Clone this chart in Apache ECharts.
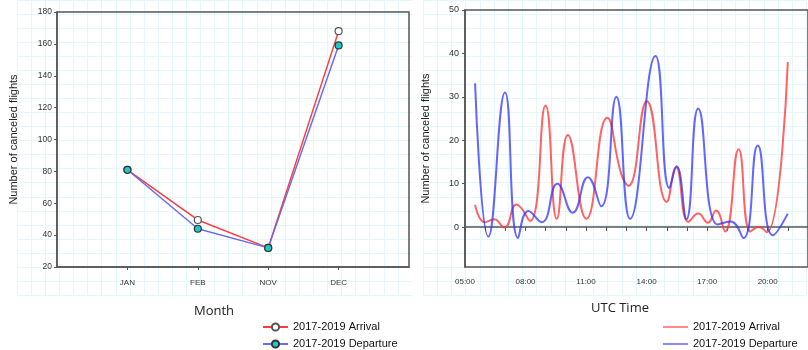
<!DOCTYPE html>
<html>
<head>
<meta charset="utf-8">
<script src="https://cdn.jsdelivr.net/npm/echarts@6/dist/echarts.min.js"></script>
<style>
html,body{margin:0;padding:0;background:#fff;}
#c1{position:absolute;left:0;top:0;width:412px;height:350px;}
#c2{position:absolute;left:412px;top:0;width:396px;height:350px;}
</style>
</head>
<body>
<div id="c1"></div>
<div id="c2"></div>
<script>
// ---- Left chart data (monthly) ----
const months = ['JAN', 'FEB', 'NOV', 'DEC'];
const arrivalMonthly = [81, 49.5, 32, 168];
const departureMonthly = [81, 44, 32, 159];

// ---- Right chart data (UTC hour of day, decimal hours) ----
const arrTimes  = [5.5, 5.99, 6.44, 6.95, 7.55, 8.22, 8.99, 9.55, 10.10, 11.01, 12.05, 12.74, 13.10, 14.01, 15.00, 15.46, 16.08, 16.56, 17.04, 17.44, 17.89, 18.56, 19.15, 19.55, 19.96, 21.0];
const arrValues = [5.1, 1.1, 1.8, -0.1, 5.2, 1.4, 28, 1.9, 21.2, 1.9, 25.2, 12.3, 9.5, 29, 5.8, 13.8, 1.2, 3.1, 1.0, 3.8, -1.0, 17.9, -1.0, 0, -1.2, 38];
const depTimes  = [5.5, 6.16, 6.98, 7.63, 8.14, 8.80, 9.58, 10.34, 11.09, 11.75, 12.50, 13.18, 14.44, 15.13, 15.49, 15.97, 16.56, 17.52, 18.16, 18.80, 19.51, 20.26, 21.0];
const depValues = [33.1, -2.2, 31, -2.5, 3.7, 1.1, 10, 3.3, 11.5, 4.8, 30, 1.9, 39.4, 9, 14, 1.8, 27.3, 0.6, 1.3, -2.5, 18.8, -1.9, 3.1];
const yTicksRight = [0, 10, 20, 30, 40, 50];

const axisCol = '#555';
const labelFont = 'Liberation Sans, Arial, sans-serif';
const paperGrid = '#e3f8f8';

function paperAxes(idx, nx, ny) {
  return {
    x: {type: 'value', gridIndex: idx, min: 0, max: nx, interval: 1, show: true, z: 0,
        axisLine: {show: false}, axisTick: {show: false}, axisLabel: {show: false},
        splitLine: {show: true, lineStyle: {color: paperGrid, width: 1}}},
    y: {type: 'value', gridIndex: idx, min: 0, max: ny, interval: 1, show: true, z: 0,
        axisLine: {show: false}, axisTick: {show: false}, axisLabel: {show: false},
        splitLine: {show: true, lineStyle: {color: paperGrid, width: 1}}}
  };
}

const legendText = {fontSize: 11, color: '#111', fontFamily: labelFont, lineHeight: 12};

// ---------------- Left chart ----------------
const padCats = [''].concat(months, ['']);
const padArr = [null].concat(arrivalMonthly, [null]);
const padDep = [null].concat(departureMonthly, [null]);
const p1 = paperAxes(1, 28, 21);

const chart1 = echarts.init(document.getElementById('c1'));
chart1.setOption({
  animation: false,
  textStyle: {fontFamily: labelFont},
  title: {text: 'Month', left: 209, top: 300, textAlign: 'center',
          textStyle: {fontSize: 13, fontWeight: 'normal', color: '#222', fontFamily: 'Open Sans, sans-serif'}},
  grid: [
    {left: 52, top: 12, width: 357, height: 255, show: true, z: 5, borderColor: axisCol, borderWidth: 1.5, backgroundColor: 'transparent'},
    {left: 17, top: -3, width: 28 * 14.2, height: 21 * 14.2, z: 0}
  ],
  legend: {
    orient: 'vertical', left: 262, top: 321, height: 40, padding: 0, itemWidth: 25, itemHeight: 9, itemGap: 5,
    textStyle: legendText,
    data: ['2017-2019 Arrival', '2017-2019 Departure']
  },
  xAxis: [
    {type: 'category', gridIndex: 0, data: padCats, boundaryGap: false, z: 6,
     axisLine: {lineStyle: {color: axisCol, width: 1.5}},
     axisTick: {length: 3, interval: (i) => i >= 1 && i <= months.length, lineStyle: {color: axisCol}},
     axisLabel: {fontSize: 8, color: '#333', margin: 12, interval: 0},
     splitLine: {show: false}},
    p1.x
  ],
  yAxis: [
    {type: 'value', gridIndex: 0, min: 20, max: 180, interval: 20, z: 6,
     name: 'Number of canceled flights', nameLocation: 'middle', nameGap: 38,
     nameTextStyle: {fontSize: 11, color: '#222'},
     axisLine: {show: true, lineStyle: {color: axisCol, width: 1.5}},
     axisTick: {show: true, length: 3, lineStyle: {color: axisCol}},
     axisLabel: {fontSize: 8.5, color: '#333', margin: 5},
     splitLine: {show: false}},
    p1.y
  ],
  series: [
    {name: '2017-2019 Arrival', type: 'line', xAxisIndex: 0, yAxisIndex: 0, data: padArr,
     symbol: 'circle', symbolSize: 7, z: 7,
     lineStyle: {color: '#ff3b3b', width: 1.5},
     itemStyle: {color: '#ffffff', borderColor: '#555', borderWidth: 1.2}},
    {name: '2017-2019 Departure', type: 'line', xAxisIndex: 0, yAxisIndex: 0, data: padDep,
     symbol: 'circle', symbolSize: 7, z: 8,
     lineStyle: {color: '#6a6af5', width: 1.5},
     itemStyle: {color: '#1ec8c8', borderColor: '#333', borderWidth: 1.2}}
  ]
});

// ---------------- Right chart ----------------
const arrData = arrTimes.map((t, i) => [t, arrValues[i]]);
const depData = depTimes.map((t, i) => [t, depValues[i]]);
const p2 = paperAxes(1, 27, 21);
function hourLabel(v) {
  if ((v - 5) % 3 !== 0 || v > 20) return '';
  return (v < 10 ? '0' : '') + v + ':00';
}

const chart2 = echarts.init(document.getElementById('c2'));
chart2.setOption({
  animation: false,
  textStyle: {fontFamily: labelFont},
  title: {text: 'UTC Time', left: 203, top: 297, textAlign: 'center',
          textStyle: {fontSize: 13, fontWeight: 'normal', color: '#222', fontFamily: 'Open Sans, sans-serif'}},
  grid: [
    {left: 40, top: 10, width: 356, height: 257, show: true, z: 5, borderColor: axisCol, borderWidth: 1.5, backgroundColor: 'transparent'},
    {left: 11, top: -3, width: 27 * 14.2, height: 21 * 14.2, z: 0}
  ],
  legend: {
    orient: 'vertical', left: 251, top: 321, height: 40, padding: 0, itemWidth: 25, itemHeight: 2, itemGap: 5,
    icon: 'rect',
    textStyle: legendText,
    data: ['2017-2019 Arrival', '2017-2019 Departure']
  },
  xAxis: [
    {type: 'value', gridIndex: 0, min: 5, max: 22, interval: 1, z: 6,
     axisLine: {lineStyle: {color: axisCol, width: 1.5}},
     axisTick: {length: 4, lineStyle: {color: axisCol}},
     axisLabel: {fontSize: 8, color: '#333', margin: 11, formatter: hourLabel, showMaxLabel: false,
                 alignMinLabel: 'center', hideOverlap: false},
     splitLine: {show: false}},
    p2.x
  ],
  yAxis: [
    {type: 'value', gridIndex: 0, min: -9.2, max: 50, z: 6,
     name: 'Number of canceled flights', nameLocation: 'middle', nameGap: 34,
     nameTextStyle: {fontSize: 11, color: '#222'},
     axisLine: {show: true, lineStyle: {color: axisCol, width: 1.5}},
     axisTick: {show: true, length: 3, customValues: yTicksRight, lineStyle: {color: axisCol}},
     axisLabel: {fontSize: 9, color: '#333', margin: 6, customValues: yTicksRight},
     splitLine: {show: false}},
    p2.y
  ],
  series: [
    {name: '2017-2019 Arrival', type: 'line', xAxisIndex: 0, yAxisIndex: 0, data: arrData,
     showSymbol: false, symbol: 'none', smooth: 0.5, z: 7,
     lineStyle: {color: 'rgba(255,60,60,0.8)', width: 2},
     itemStyle: {color: 'rgba(255,110,110,0.8)'}},
    {name: '2017-2019 Departure', type: 'line', xAxisIndex: 0, yAxisIndex: 0, data: depData,
     showSymbol: false, symbol: 'none', smooth: 0.5, z: 8,
     lineStyle: {color: 'rgba(50,50,255,0.75)', width: 2},
     itemStyle: {color: 'rgba(110,110,255,0.8)'}}
  ]
});
</script>
</body>
</html>
